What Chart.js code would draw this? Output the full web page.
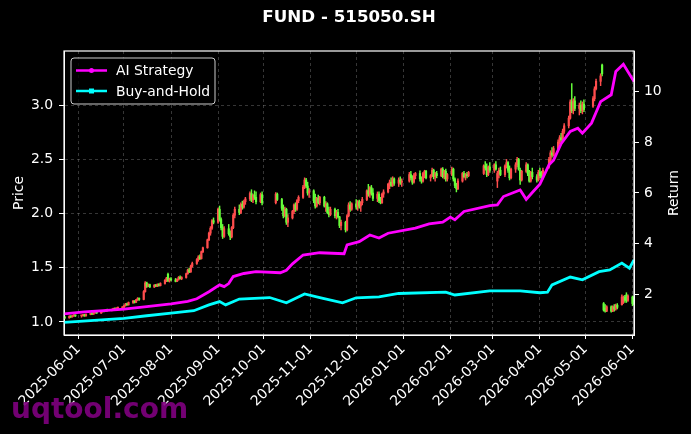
<!DOCTYPE html>
<html>
<head>
<meta charset="utf-8">
<script src="https://cdn.jsdelivr.net/npm/chart.js@4.4.0/dist/chart.umd.min.js"></script>
<style>
  html, body { margin: 0; padding: 0; background: #000; }
  canvas { display: block; }
</style>
</head>
<body>
<canvas id="myChart" width="691" height="434"></canvas>
<script>
// trading days, one list per month
var months = ['2025-05', '2025-06', '2025-07', '2025-08', '2025-09', '2025-10', '2025-11',
              '2025-12', '2026-01', '2026-02', '2026-03', '2026-04', '2026-05', '2026-06'];
var monthDays = [
  [22,23,26,27,28,29,30],
  [3,4,5,6,9,10,11,12,13,16,17,18,19,20,23,24,25,26,27,30],
  [1,2,3,4,7,8,9,10,11,14,15,16,17,18,21,22,23,24,25,28,29,30,31],
  [1,4,5,6,7,8,11,12,13,14,15,18,19,20,21,22,25,26,27,28,29],
  [1,2,3,4,5,8,9,10,11,12,15,16,17,18,19,22,23,24,25,26,29,30],
  [9,10,13,14,15,16,17,20,21,22,23,24,27,28,29,30,31],
  [3,4,5,6,7,10,11,12,13,14,17,18,19,20,21,24,25,26,27,28],
  [1,2,3,4,5,8,9,10,11,12,15,16,17,18,19,22,23,24,25,26,29,30,31],
  [5,6,7,8,9,12,13,14,15,16,19,20,21,22,23,26,27,28,29,30],
  [2,3,4,5,6,9,10,11,12,13,23,24,25,26,27],
  [2,3,4,5,6,9,10,11,12,13,16,17,18,19,20,23,24,25,26,27,30,31],
  [1,2,3,7,8,9,10,13,14,15,16,17,20,21,22,23,24,27,28,29,30],
  [6,7,8,11,12,13,14,15,18,19,20,21,22,25,26,27,28,29],
  [1,2]
];

// daily candles (price axis)
var opens = [
  1.030,1.042,1.038,1.051,1.048,1.056,1.061,
  1.057,1.058,1.066,1.056,1.070,1.080,1.072,1.086,1.092,1.082,1.096,1.104,1.098,1.110,1.106,1.116,1.124,1.118,1.128,1.132,
  1.135,1.150,1.165,1.158,1.180,1.192,1.182,1.205,1.218,1.208,1.280,1.360,1.330,1.345,1.322,1.340,1.330,1.348,1.335,1.355,1.385,1.440,1.380,
  1.398,1.388,1.375,1.392,1.412,1.400,1.410,1.445,1.480,1.462,1.515,1.540,1.575,1.600,1.585,1.648,1.685,1.758,1.820,1.865,1.935,
  1.920,2.040,1.945,1.870,1.790,1.860,1.815,1.785,1.870,1.985,2.040,2.010,2.085,2.060,2.110,2.135,2.185,2.125,2.170,2.150,2.110,2.175,
  2.100,2.180,2.130,2.050,1.980,2.040,1.920,1.960,2.020,2.080,2.040,2.120,2.150,2.245,2.310,2.255,2.190,
  2.210,2.120,2.070,2.140,2.100,2.150,2.070,2.090,2.010,1.990,2.040,1.980,2.010,1.970,1.890,1.920,1.850,1.980,2.080,2.040,
  2.090,2.060,2.110,2.070,2.100,2.130,2.210,2.180,2.240,2.190,2.140,2.180,2.120,2.100,2.180,2.200,2.270,2.290,2.260,2.320,2.280,2.310,2.290,
  2.300,2.360,2.330,2.290,2.350,2.370,2.320,2.300,2.370,2.390,2.330,2.350,2.400,2.340,2.370,2.350,2.410,2.340,2.390,2.320,
  2.360,2.410,2.320,2.260,2.230,2.300,2.370,2.340,2.360,2.350,2.370,2.440,2.420,2.360,2.430,
  2.400,2.450,2.300,2.370,2.400,2.360,2.440,2.470,2.400,2.330,2.410,2.450,2.500,2.400,2.310,2.390,2.450,2.370,2.300,2.380,2.340,2.310,
  2.380,2.350,2.330,2.430,2.500,2.560,2.540,2.600,2.660,2.700,2.680,2.760,2.810,2.880,3.030,2.950,3.040,2.970,3.000,2.950,3.010,
  2.990,3.060,3.150,3.220,3.370,1.170,1.130,1.100,1.140,1.100,1.140,1.120,1.155,1.160,1.200,1.230,1.250,1.200,
  1.230,1.220
];
var highs = [
  1.050,1.048,1.058,1.056,1.062,1.068,1.065,
  1.062,1.070,1.072,1.075,1.084,1.086,1.090,1.098,1.096,1.100,1.108,1.110,1.114,1.118,1.120,1.128,1.130,1.132,1.138,1.140,
  1.155,1.172,1.175,1.185,1.200,1.198,1.210,1.225,1.222,1.290,1.372,1.368,1.352,1.350,1.345,1.348,1.352,1.355,1.362,1.392,1.412,1.452,1.405,
  1.410,1.402,1.398,1.420,1.425,1.418,1.452,1.488,1.498,1.525,1.552,1.585,1.612,1.620,1.655,1.692,1.765,1.830,1.880,1.945,1.960,
  2.050,2.070,1.960,1.900,1.880,1.900,1.840,1.880,2.000,2.060,2.080,2.100,2.115,2.125,2.150,2.200,2.220,2.180,2.210,2.200,2.190,2.200,
  2.195,2.190,2.140,2.080,2.060,2.050,1.990,2.030,2.090,2.100,2.130,2.165,2.260,2.330,2.325,2.290,2.230,
  2.220,2.180,2.150,2.170,2.160,2.160,2.110,2.100,2.060,2.060,2.050,2.030,2.040,1.975,1.940,1.930,1.990,2.100,2.110,2.100,
  2.130,2.120,2.125,2.110,2.150,2.220,2.270,2.250,2.260,2.230,2.200,2.200,2.150,2.190,2.220,2.280,2.310,2.330,2.340,2.330,2.330,2.340,2.320,
  2.380,2.390,2.350,2.370,2.380,2.395,2.340,2.380,2.400,2.400,2.360,2.420,2.410,2.380,2.390,2.420,2.425,2.400,2.410,2.370,
  2.430,2.420,2.330,2.280,2.320,2.380,2.390,2.370,2.380,2.390,2.450,2.480,2.460,2.440,2.470,
  2.460,2.480,2.390,2.420,2.430,2.450,2.500,2.480,2.440,2.420,2.470,2.520,2.510,2.420,2.400,2.470,2.460,2.400,2.390,2.420,2.360,2.400,
  2.420,2.390,2.420,2.520,2.580,2.610,2.620,2.680,2.720,2.740,2.780,2.830,2.900,3.050,3.200,3.060,3.080,3.020,3.040,3.030,3.050,
  3.080,3.170,3.240,3.290,3.380,1.180,1.160,1.150,1.150,1.150,1.160,1.165,1.170,1.250,1.240,1.245,1.270,1.250,
  1.240,1.235
];
var lows = [
  1.025,1.030,1.035,1.040,1.044,1.052,1.050,
  1.044,1.054,1.052,1.053,1.066,1.068,1.070,1.080,1.078,1.080,1.090,1.092,1.095,1.100,1.102,1.110,1.112,1.115,1.120,1.125,
  1.130,1.146,1.152,1.155,1.172,1.175,1.178,1.198,1.200,1.204,1.275,1.318,1.325,1.318,1.318,1.325,1.326,1.330,1.332,1.350,1.372,1.372,1.368,
  1.380,1.370,1.372,1.385,1.395,1.390,1.405,1.440,1.455,1.458,1.505,1.532,1.560,1.575,1.580,1.640,1.680,1.750,1.800,1.855,1.905,
  1.910,1.930,1.850,1.770,1.780,1.800,1.760,1.775,1.860,1.960,1.990,2.000,2.040,2.050,2.085,2.120,2.110,2.100,2.130,2.090,2.100,2.080,
  2.090,2.120,2.030,1.960,1.970,1.900,1.880,1.950,2.000,2.020,2.030,2.100,2.140,2.230,2.240,2.170,2.150,
  2.100,2.050,2.060,2.090,2.080,2.060,2.020,2.000,1.970,1.980,1.960,1.950,1.960,1.870,1.850,1.830,1.840,1.970,2.020,2.030,
  2.040,2.030,2.050,2.020,2.080,2.120,2.160,2.150,2.170,2.120,2.110,2.100,2.090,2.095,2.150,2.190,2.230,2.250,2.250,2.260,2.250,2.270,2.250,
  2.290,2.310,2.270,2.280,2.320,2.300,2.280,2.290,2.330,2.320,2.300,2.340,2.320,2.300,2.330,2.340,2.330,2.320,2.300,2.300,
  2.350,2.300,2.240,2.200,2.220,2.290,2.330,2.310,2.330,2.340,2.360,2.400,2.340,2.350,2.380,
  2.380,2.400,2.240,2.330,2.350,2.340,2.420,2.380,2.310,2.320,2.380,2.430,2.400,2.270,2.300,2.380,2.350,2.290,2.290,2.320,2.290,2.300,
  2.330,2.310,2.320,2.420,2.480,2.520,2.530,2.580,2.640,2.660,2.670,2.740,2.790,2.870,2.930,2.920,2.950,2.910,2.930,2.920,2.940,
  2.980,3.040,3.140,3.180,3.270,1.100,1.090,1.095,1.090,1.095,1.100,1.110,1.120,1.155,1.170,1.180,1.180,1.190,
  1.150,1.160
];
var closes = [
  1.042,1.038,1.051,1.048,1.056,1.061,1.057,
  1.058,1.066,1.056,1.070,1.080,1.072,1.086,1.092,1.082,1.096,1.104,1.098,1.110,1.106,1.116,1.124,1.118,1.128,1.132,1.135,
  1.150,1.165,1.158,1.180,1.192,1.182,1.205,1.218,1.208,1.280,1.360,1.330,1.345,1.322,1.340,1.330,1.348,1.335,1.355,1.385,1.405,1.380,1.398,
  1.388,1.375,1.392,1.412,1.400,1.410,1.445,1.480,1.462,1.515,1.540,1.575,1.600,1.585,1.648,1.685,1.758,1.820,1.865,1.935,1.920,
  2.040,1.945,1.870,1.790,1.860,1.815,1.785,1.870,1.985,2.040,2.010,2.085,2.060,2.110,2.135,2.185,2.125,2.170,2.150,2.110,2.175,2.100,
  2.180,2.130,2.050,1.980,2.040,1.920,1.960,2.020,2.080,2.040,2.120,2.150,2.245,2.310,2.255,2.190,2.210,
  2.120,2.070,2.140,2.100,2.150,2.070,2.090,2.010,1.990,2.040,1.980,2.010,1.970,1.890,1.920,1.850,1.980,2.080,2.040,2.090,
  2.060,2.110,2.070,2.100,2.130,2.210,2.180,2.240,2.190,2.140,2.180,2.120,2.100,2.180,2.200,2.270,2.290,2.260,2.320,2.280,2.310,2.290,2.300,
  2.360,2.330,2.290,2.350,2.370,2.320,2.300,2.370,2.390,2.330,2.350,2.400,2.340,2.370,2.350,2.410,2.340,2.390,2.320,2.360,
  2.410,2.320,2.260,2.230,2.300,2.370,2.340,2.360,2.350,2.380,2.440,2.420,2.360,2.430,2.400,
  2.450,2.410,2.370,2.400,2.360,2.440,2.470,2.400,2.330,2.410,2.450,2.500,2.410,2.310,2.390,2.450,2.370,2.300,2.380,2.340,2.310,2.380,
  2.350,2.330,2.400,2.500,2.560,2.540,2.600,2.660,2.700,2.680,2.760,2.810,2.880,3.030,2.950,3.040,2.970,3.000,2.950,3.010,2.960,
  3.060,3.150,3.220,3.270,3.290,1.110,1.100,1.140,1.100,1.140,1.120,1.155,1.135,1.230,1.230,1.200,1.200,1.240,
  1.170,1.190
];

// cumulative return lines (right axis)
var aiDates = ['2025-05-22','2025-06-05','2025-06-20','2025-07-01','2025-07-16','2025-08-01','2025-08-12','2025-08-18',
  '2025-08-26','2025-09-02','2025-09-05','2025-09-08','2025-09-11','2025-09-18','2025-09-26','2025-10-12','2025-10-16',
  '2025-10-20','2025-10-27','2025-11-07','2025-11-23','2025-11-25','2025-12-03','2025-12-10','2025-12-16','2025-12-22',
  '2026-01-09','2026-01-18','2026-01-27','2026-02-01','2026-02-04','2026-02-10','2026-02-27','2026-03-04','2026-03-08',
  '2026-03-19','2026-03-23','2026-03-27','2026-04-01','2026-04-07','2026-04-10','2026-04-15','2026-04-21','2026-04-26',
  '2026-04-29','2026-05-05','2026-05-11','2026-05-18','2026-05-21','2026-05-26','2026-06-02'];
var aiValues = [1.22,1.30,1.36,1.41,1.51,1.62,1.72,1.82,
  2.10,2.37,2.30,2.42,2.70,2.82,2.89,2.85,2.95,
  3.20,3.55,3.64,3.60,3.95,4.08,4.34,4.22,4.41,
  4.61,4.78,4.85,5.05,4.94,5.27,5.50,5.53,5.86,
  6.12,5.75,6.02,6.35,7.11,7.30,7.95,8.43,8.56,
  8.36,8.76,9.61,9.88,10.80,11.09,10.40];

var bhDates = ['2025-05-22','2025-06-04','2025-07-01','2025-07-16','2025-08-01','2025-08-16','2025-08-26','2025-09-02',
  '2025-09-06','2025-09-15','2025-10-05','2025-10-16','2025-10-28','2025-11-07','2025-11-22','2025-12-01','2025-12-16',
  '2025-12-29','2026-01-29','2026-02-04','2026-02-27','2026-03-19','2026-04-01','2026-04-06','2026-04-09','2026-04-21',
  '2026-04-29','2026-05-10','2026-05-17','2026-05-25','2026-05-30','2026-06-02'];
var bhValues = [0.89,0.94,1.05,1.15,1.25,1.35,1.58,1.71,
  1.58,1.81,1.87,1.66,2.01,1.87,1.66,1.86,1.90,
  2.03,2.08,1.97,2.13,2.13,2.06,2.08,2.37,2.68,
  2.57,2.89,2.96,3.23,3.03,3.36];

var tickLabels = ['2025-06-01','2025-07-01','2025-08-01','2025-09-01','2025-10-01','2025-11-01','2025-12-01',
  '2026-01-01','2026-02-01','2026-03-01','2026-04-01','2026-05-01','2026-06-01'];
var priceTicks = [1.0, 1.5, 2.0, 2.5, 3.0];
var returnTicks = [2, 4, 6, 8, 10];

var UP = '#ff4d4d', DOWN = '#66ff3a';
var FONT = 'DejaVu Sans';
var FS = 13.9;

// days since 2025-06-01
function dayOf(s) {
  var p = s.split('-');
  return (Date.UTC(+p[0], +p[1] - 1, +p[2]) - Date.UTC(2025, 5, 1)) / 86400000;
}

var candleX = [];
months.forEach(function (m, i) {
  monthDays[i].forEach(function (d) { candleX.push(dayOf(m + '-' + d)); });
});

var wickPoints = candleX.map(function (x, i) { return {x: x, y: [lows[i], highs[i]]}; });
var bodyPoints = candleX.map(function (x, i) { return {x: x, y: [opens[i], closes[i]]}; });
var candleColors = closes.map(function (c, i) { return c >= opens[i] ? UP : DOWN; });
var aiPoints = aiDates.map(function (d, i) { return {x: dayOf(d), y: aiValues[i]}; });
var bhPoints = bhDates.map(function (d, i) { return {x: dayOf(d), y: bhValues[i]}; });
var tickDays = tickLabels.map(dayOf);

var gridColor = 'rgba(150,150,150,0.45)';

// title, frame, right axis label, legend and watermark
var decor = {
  id: 'decor',
  afterDraw: function (chart) {
    var c = chart.ctx, a = chart.chartArea;
    c.save();
    c.strokeStyle = '#ffffff';
    c.lineWidth = 1.2;
    c.strokeRect(a.left, a.top, a.right - a.left, a.bottom - a.top);

    c.fillStyle = '#ffffff';
    c.font = 'bold 16.7px "' + FONT + '"';
    c.textAlign = 'center';
    c.textBaseline = 'middle';
    c.fillText('FUND - 515050.SH', (a.left + a.right) / 2, 18);

    c.save();
    c.font = FS + 'px "' + FONT + '"';
    c.translate(674, (a.top + a.bottom) / 2);
    c.rotate(-Math.PI / 2);
    c.fillText('Return', 0, 0);
    c.restore();

    // legend box
    var bx = 71, by = 58, bw = 144, bh = 46, r = 3;
    c.beginPath();
    c.moveTo(bx + r, by);
    c.arcTo(bx + bw, by, bx + bw, by + bh, r);
    c.arcTo(bx + bw, by + bh, bx, by + bh, r);
    c.arcTo(bx, by + bh, bx, by, r);
    c.arcTo(bx, by, bx + bw, by, r);
    c.closePath();
    c.fillStyle = 'rgba(0,0,0,0.8)';
    c.fill();
    c.strokeStyle = '#cccccc';
    c.lineWidth = 1;
    c.stroke();

    var rows = [['AI Strategy', '#ff00ff', 'circle', 70.5], ['Buy-and-Hold', '#00ffff', 'square', 91]];
    c.font = FS + 'px "' + FONT + '"';
    c.textAlign = 'left';
    rows.forEach(function (row) {
      c.strokeStyle = row[1];
      c.fillStyle = row[1];
      c.lineWidth = 2.5;
      c.beginPath();
      c.moveTo(76, row[3]);
      c.lineTo(107, row[3]);
      c.stroke();
      if (row[2] === 'circle') {
        c.beginPath();
        c.arc(91.5, row[3], 2.5, 0, Math.PI * 2);
        c.fill();
      } else {
        c.fillRect(89, row[3] - 2.5, 5, 5);
      }
      c.fillStyle = '#ffffff';
      c.fillText(row[0], 116, row[3] + 1);
    });

    c.font = 'bold 28px "' + FONT + '"';
    c.fillStyle = 'rgba(128,0,128,0.9)';
    c.textAlign = 'left';
    c.textBaseline = 'alphabetic';
    c.fillText('uqtool.com', 11, 418);
    c.restore();
  }
};

const ctx = document.getElementById('myChart').getContext('2d');
let myChart = new Chart(ctx, {
  type: 'bar',
  data: {
    datasets: [
      {
        type: 'line', label: 'AI Strategy', data: aiPoints, yAxisID: 'y1',
        borderColor: '#ff00ff', borderWidth: 2.8, pointRadius: 0, order: 0
      },
      {
        type: 'line', label: 'Buy-and-Hold', data: bhPoints, yAxisID: 'y1',
        borderColor: '#00ffff', borderWidth: 2.8, pointRadius: 0, order: 0
      },
      {
        type: 'bar', label: 'body', data: bodyPoints, yAxisID: 'y',
        backgroundColor: candleColors, barThickness: 1.5, grouped: false, minBarLength: 1, order: 1
      },
      {
        type: 'bar', label: 'wick', data: wickPoints, yAxisID: 'y',
        backgroundColor: candleColors, barThickness: 0.8, grouped: false, order: 2
      }
    ]
  },
  options: {
    responsive: false,
    animation: false,
    layout: { padding: { top: 51, left: 0, right: 0, bottom: 0 } },
    plugins: {
      legend: { display: false },
      title: { display: false },
      tooltip: { enabled: false }
    },
    scales: {
      x: {
        type: 'linear', min: -9.5, max: 366, offset: false,
        afterBuildTicks: function (s) { s.ticks = tickDays.map(function (v) { return {value: v}; }); },
        afterFit: function (s) { s.height = 99; },
        ticks: {
          autoSkip: false, minRotation: 45, maxRotation: 45, padding: 2, color: '#ffffff',
          font: { family: FONT, size: FS },
          callback: function (v, i) { return tickLabels[i]; }
        },
        grid: { color: gridColor, lineWidth: 0.8, offset: false, tickLength: 4, tickColor: '#ffffff', tickWidth: 1, tickBorderDash: [] },
        border: { color: '#ffffff', width: 1, dash: [3, 3] }
      },
      y: {
        position: 'left', min: 0.88, max: 3.5,
        afterBuildTicks: function (s) { s.ticks = priceTicks.map(function (v) { return {value: v}; }); },
        afterFit: function (s) { s.width = 64; },
        ticks: {
          padding: 6, color: '#ffffff', font: { family: FONT, size: FS },
          callback: function (v) { return v.toFixed(1); }
        },
        grid: { color: gridColor, lineWidth: 0.8, tickLength: 5, tickColor: '#ffffff', tickWidth: 1, tickBorderDash: [] },
        border: { color: '#ffffff', width: 1, dash: [3, 3] },
        title: { display: true, text: 'Price', color: '#ffffff', font: { family: FONT, size: FS }, padding: { top: 11.5, bottom: 0 } }
      },
      y1: {
        position: 'right', min: 0.39, max: 11.61,
        afterBuildTicks: function (s) { s.ticks = returnTicks.map(function (v) { return {value: v}; }); },
        afterFit: function (s) { s.width = 57; },
        ticks: {
          padding: 5, color: '#ffffff', font: { family: FONT, size: FS },
          callback: function (v) { return String(v); }
        },
        grid: { drawOnChartArea: false, tickLength: 5, tickColor: '#ffffff', tickWidth: 1 },
        border: { color: '#ffffff', width: 1 }
      }
    }
  },
  plugins: [decor]
});
</script>
</body>
</html>
